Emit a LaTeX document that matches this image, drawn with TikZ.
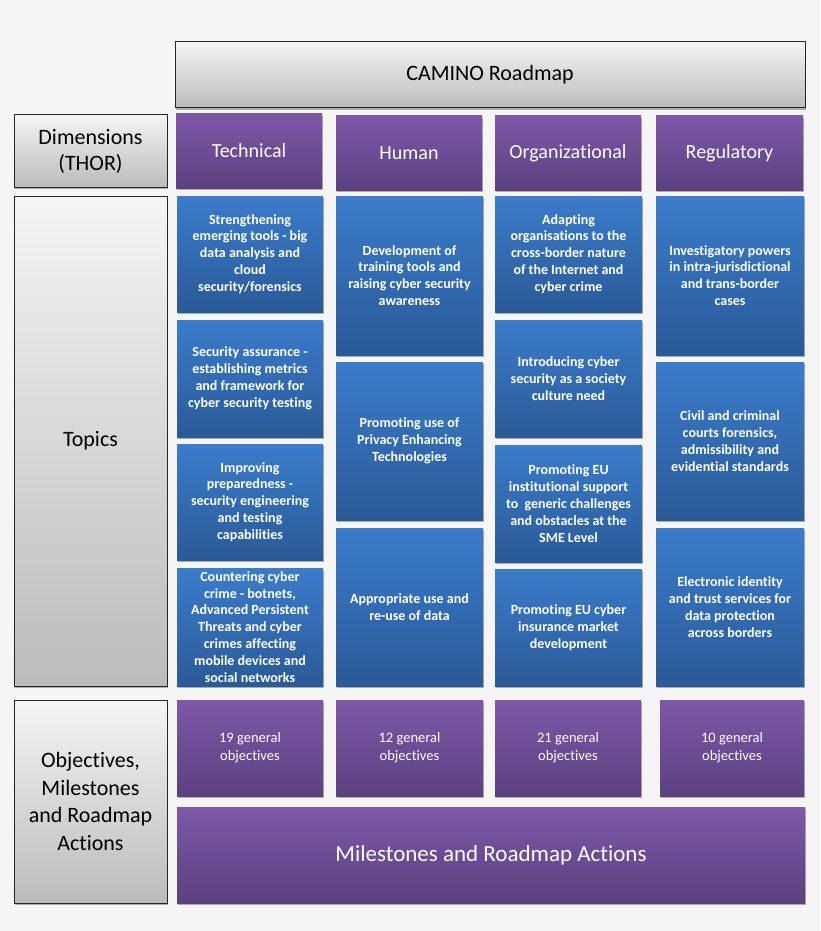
\documentclass[tikz,border=0pt]{standalone}
\usepackage{fontspec}
\setmainfont{Carlito}[Ligatures=NoCommon]
\usetikzlibrary{shadows}
\definecolor{bg}{HTML}{F5F5F5}
\definecolor{purpT}{HTML}{7D58A8}
\definecolor{purpB}{HTML}{5C4080}
\definecolor{bluT}{HTML}{3B7CCB}
\definecolor{bluB}{HTML}{2A5A97}
\definecolor{grT}{HTML}{F4F4F4}
\definecolor{grB}{HTML}{BBBBBB}
\tikzset{
  base/.style={rectangle, inner sep=0pt, outer sep=0pt, align=center,
    drop shadow={shadow xshift=0.5pt, shadow yshift=-2pt, opacity=0.3, fill=black}},
  purp/.style={base, top color=purpT, bottom color=purpB, text=white},
  dimbox/.style={purp, font=\fontsize{20}{24}\selectfont},
  objbox/.style={purp, font=\fontsize{14.5}{18}\selectfont},
  milbox/.style={purp, font=\fontsize{23}{28}\selectfont},
  blu/.style={base, top color=bluT, bottom color=bluB, text=white,
    font=\fontsize{14}{16.9}\selectfont\bfseries},
  gray/.style={base, top color=grT, bottom color=grB, draw=black!85,
    line width=1pt, text=black, font=\fontsize{22}{27.5}\selectfont},
}
\newcommand\bx[7]{\node[#6, minimum width={#4pt-#2pt}, minimum height={#5pt-#3pt}] (#1) at ({(#2+#4)/2},{(#3+#5)/2+1}) {#7};}
\begin{document}
\begin{tikzpicture}[x=1pt,y=-1pt]
\fill[bg] (0,0) rectangle (820,931);
\useasboundingbox (0,0) rectangle (820,931);
% header and left labels
\bx{camino}{175}{41}{805}{107}{gray}{CAMINO Roadmap}
\bx{dimL}{14}{114}{167}{186}{gray,font=\fontsize{22}{26}\selectfont}{Dimensions\\(THOR)}
\bx{topL}{14}{195}{167}{685}{gray}{Topics}
\bx{objL}{14}{699}{167}{902}{gray}{Objectives,\\Milestones\\and Roadmap\\Actions}
% dimensions
\bx{tech}{176}{113}{322}{187}{dimbox}{Technical}
\bx{hum}{336}{115}{482}{189}{dimbox}{Human}
\bx{org}{495}{115}{641}{189}{dimbox}{Organizational}
\bx{reg}{656}{115}{803}{189}{dimbox}{Regulatory}
% technical topics
\bx{t1}{177}{195}{323}{311}{blu}{Strengthening\\emerging tools - big\\data analysis and\\cloud\\security/forensics}
\bx{t2}{177}{319}{323}{436}{blu}{Security assurance -\\establishing metrics\\and framework for\\cyber security testing}
\bx{t3}{177}{443}{323}{559}{blu}{Improving\\preparedness -\\security engineering\\and testing\\capabilities}
\bx{t4}{177}{567}{323}{685}{blu}{Countering cyber\\crime - botnets,\\Advanced Persistent\\Threats and cyber\\crimes affecting\\mobile devices and\\social networks}
% human topics
\bx{h1}{336}{195}{483}{354}{blu}{Development of\\training tools and\\raising cyber security\\awareness}
\bx{h2}{336}{361}{483}{519}{blu}{Promoting use of\\Privacy Enhancing\\Technologies}
\bx{h3}{336}{527}{483}{685}{blu}{Appropriate use and\\re-use of data}
% organizational topics
\bx{o1}{495}{195}{642}{311}{blu}{Adapting\\organisations to the\\cross-border nature\\of the Internet and\\cyber crime}
\bx{o2}{495}{319}{642}{436}{blu}{Introducing cyber\\security as a society\\culture need}
\bx{o3}{495}{444}{642}{561}{blu}{Promoting EU\\institutional support\\to~ generic challenges\\and obstacles at the\\SME Level}
\bx{o4}{495}{568}{642}{685}{blu}{Promoting EU cyber\\insurance market\\development}
% regulatory topics
\bx{r1}{656}{195}{804}{354}{blu}{Investigatory powers\\in intra-jurisdictional\\and trans-border\\cases}
\bx{r2}{656}{361}{804}{519}{blu}{Civil and criminal\\courts forensics,\\admissibility and\\evidential standards}
\bx{r3}{656}{527}{804}{685}{blu}{Electronic identity\\and trust services for\\data protection\\across borders}
% objectives
\bx{ob1}{177}{699}{323}{795}{objbox}{19 general\\objectives}
\bx{ob2}{336}{699}{483}{795}{objbox}{12 general\\objectives}
\bx{ob3}{495}{699}{641}{795}{objbox}{21 general\\objectives}
\bx{ob4}{660}{699}{804}{795}{objbox}{10 general\\objectives}
\bx{mil}{177}{806}{805}{902}{milbox}{Milestones and Roadmap Actions}
\end{tikzpicture}
\end{document}
